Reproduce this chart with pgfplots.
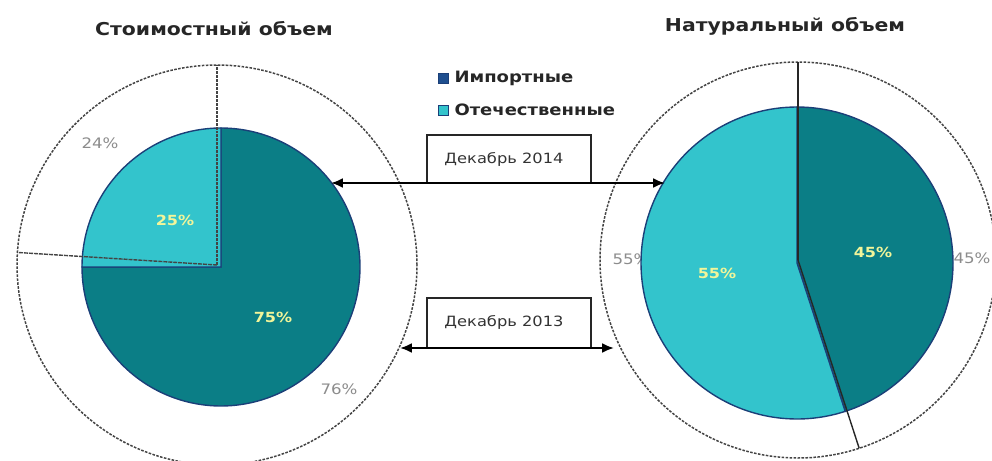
\documentclass[border=0pt]{standalone}
\usepackage{pgfplots}
\pgfplotsset{compat=1.18}
\usepackage{fontspec}
\setmainfont{DejaVu Sans}[FakeStretch=1.15]
\usetikzlibrary{arrows.meta}
\definecolor{imp}{HTML}{0B7E86}
\definecolor{dom}{HTML}{33C4CC}
\definecolor{edge}{HTML}{1B3F78}
\definecolor{lab}{HTML}{F2F59A}
\definecolor{glab}{HTML}{8C8C8C}
\definecolor{legimp}{HTML}{1F4F8F}
\definecolor{ring}{HTML}{444444}

% Shares, % (import / domestic)
\def\ValImp{75}     \def\ValDom{25}     % Стоимостный объем, декабрь 2014
\def\ValImpOld{76}  \def\ValDomOld{24}  % Стоимостный объем, декабрь 2013
\def\NatImp{45}     \def\NatDom{55}     % Натуральный объем, декабрь 2014
\def\NatImpOld{45}  \def\NatDomOld{55}  % Натуральный объем, декабрь 2013

\pgfmathsetmacro\aL{90-3.6*\ValImp}
\pgfmathsetmacro\aLo{90-3.6*\ValImpOld}
\pgfmathsetmacro\aR{90-3.6*\NatImp}
\pgfmathsetmacro\aRo{90-3.6*\NatImpOld}

\begin{document}
\begin{tikzpicture}
\begin{axis}[
  width=992bp, height=461bp, scale only axis,
  xmin=0, xmax=992, ymin=0, ymax=461, y dir=reverse,
  hide axis, clip=false,
]
\coordinate (sw) at (axis cs:0,461);
\coordinate (ne) at (axis cs:992,0);

% ---- outer (December 2013) rings ----
\addplot[ring, line width=1.5pt, dash pattern=on 2.6pt off 1.4pt, domain=0:360, samples=181] ({217+200*cos(x)},{265-200*sin(x)});
\addplot[ring, line width=1.5pt, dash pattern=on 2.6pt off 1.4pt, domain=0:360, samples=181] ({798+198*cos(x)},{260-198*sin(x)});

% outer labels
\node[text=glab, font=\fontsize{14.5}{16}\selectfont] at (axis cs:100,143) {\ValDomOld\%};
\node[text=glab, font=\fontsize{14.5}{16}\selectfont] at (axis cs:339,389) {\ValImpOld\%};
\node[text=glab, font=\fontsize{14.5}{16}\selectfont] at (axis cs:631,259) {\NatDomOld\%};
\node[text=glab, font=\fontsize{14.5}{16}\selectfont] at (axis cs:972,258) {\NatImpOld\%};

% ---- inner (December 2014) pies ----
\addplot[fill=imp, draw=edge, line width=1.4pt, domain=\aL:90, samples=150] ({221+139*cos(x)},{267-139*sin(x)}) -- (axis cs:221,267) -- cycle;
\addplot[fill=dom, draw=edge, line width=1.4pt, domain=-270:\aL, samples=60] ({221+139*cos(x)},{267-139*sin(x)}) -- (axis cs:221,267) -- cycle;

\addplot[fill=imp, draw=edge, line width=1.4pt, domain=\aR:90, samples=100] ({797+156*cos(x)},{263-156*sin(x)}) -- (axis cs:797,263) -- cycle;
\addplot[fill=dom, draw=edge, line width=1.4pt, domain=-270:\aR, samples=120] ({797+156*cos(x)},{263-156*sin(x)}) -- (axis cs:797,263) -- cycle;

% ring boundary lines
\addplot[ring, line width=1.4pt, dash pattern=on 3pt off 1pt, domain=0:200, samples=2] ({217+x*cos(90)},{265-x*sin(90)});
\addplot[ring, line width=1.4pt, dash pattern=on 4pt off 1pt, domain=0:200, samples=2] ({217+x*cos(\aLo)},{265-x*sin(\aLo)});
\addplot[black!85, line width=1.4pt, domain=0:198, samples=2] ({798+x*cos(90)},{260-x*sin(90)});
\addplot[black!85, line width=1.4pt, domain=0:198, samples=2] ({798+x*cos(\aRo)},{260-x*sin(\aRo)});

% inner labels
\node[text=lab, font=\bfseries\fontsize{14}{16}\selectfont] at (axis cs:175,220) {\ValDom\%};
\node[text=lab, font=\bfseries\fontsize{14}{16}\selectfont] at (axis cs:273,317) {\ValImp\%};
\node[text=lab, font=\bfseries\fontsize{14}{16}\selectfont] at (axis cs:873,252) {\NatImp\%};
\node[text=lab, font=\bfseries\fontsize{14}{16}\selectfont] at (axis cs:717,273) {\NatDom\%};

% ---- period boxes and arrows ----
\addplot[black!85, line width=1.4pt] coordinates {(427,183) (427,135) (591,135) (591,183)};
\addplot[black, line width=2pt, {Latex[length=12pt,width=10pt]}-{Latex[length=12pt,width=10pt]}] coordinates {(331,183) (665,183)};
\node[font=\fontsize{14.2}{16}\selectfont, text=black!80] at (axis cs:504,159) {Декабрь 2014};

\addplot[black!85, line width=1.4pt] coordinates {(427,348) (427,298) (591,298) (591,348)};
\addplot[black, line width=2pt, {Latex[length=12pt,width=10pt]}-{Latex[length=12pt,width=10pt]}] coordinates {(400,348) (614,348)};
\node[font=\fontsize{14.2}{16}\selectfont, text=black!80] at (axis cs:504,322) {Декабрь 2013};

% ---- titles ----
\node[font=\bfseries\fontsize{17.8}{20}\selectfont, text=black!85] at (axis cs:214,29) {Стоимостный объем};
\node[font=\bfseries\fontsize{17.8}{20}\selectfont, text=black!85] at (axis cs:785,26) {Натуральный объем};

% ---- legend ----
\addplot[only marks, mark=square*, mark size=5bp, mark options={fill=legimp, draw=edge, line width=1pt}] coordinates {(443,78)};
\addplot[only marks, mark=square*, mark size=5bp, mark options={fill=dom, draw=edge, line width=1pt}] coordinates {(443,110)};
\node[anchor=west, font=\bfseries\fontsize{15.7}{18}\selectfont, text=black!85] at (axis cs:451,78) {Импортные};
\node[anchor=west, font=\bfseries\fontsize{15.7}{18}\selectfont, text=black!85] at (axis cs:451,110) {Отечественные};
\end{axis}
\pgfresetboundingbox
\path (sw) rectangle (ne);
\end{tikzpicture}
\end{document}
